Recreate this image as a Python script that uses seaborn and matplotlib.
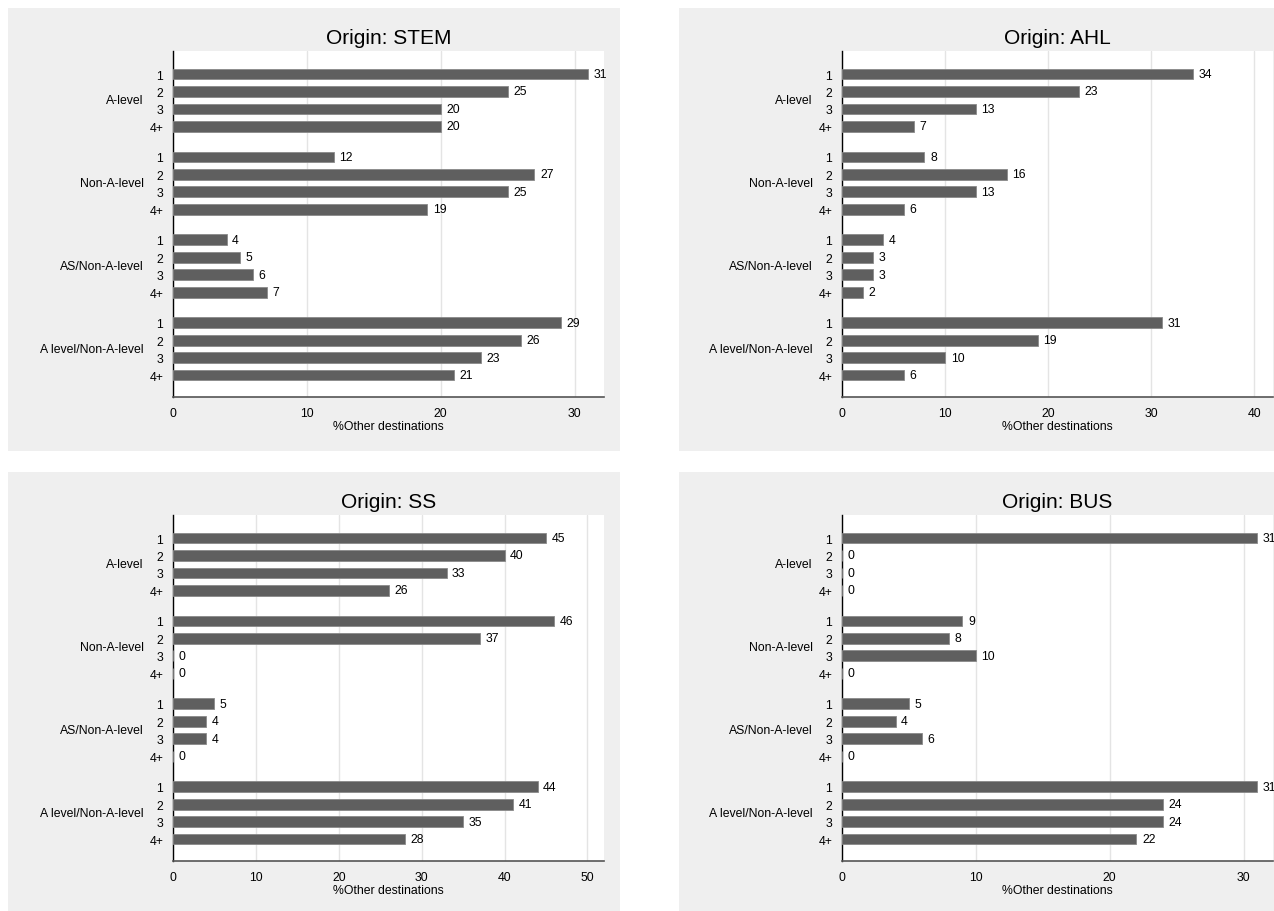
import numpy as np
import pandas as pd
import matplotlib.pyplot as plt
import seaborn as sns
from matplotlib.patches import Rectangle

# 数据
origins = ["STEM", "AHL", "SS", "BUS"]
groups = ["A-level", "Non-A-level", "AS/Non-A-level", "A level/Non-A-level"]
levels = ["1", "2", "3", "4+"]

stem = [31, 25, 20, 20, 12, 27, 25, 19, 4, 5, 6, 7, 29, 26, 23, 21]
ahl = [34, 23, 13, 7, 8, 16, 13, 6, 4, 3, 3, 2, 31, 19, 10, 6]
ss = [45, 40, 33, 26, 46, 37, 0, 0, 5, 4, 4, 0, 44, 41, 35, 28]
bus = [31, 0, 0, 0, 9, 8, 10, 0, 5, 4, 6, 0, 31, 24, 24, 22]

x_max = [32.2, 41.8, 52.0, 32.2]
x_ticks = [[0, 10, 20, 30], [0, 10, 20, 30, 40], [0, 10, 20, 30, 40, 50], [0, 10, 20, 30]]

W, H = 1274, 912
BAR_COLOR = "#5f5f5f"
PANEL_COLOR = "#efefef"
GROUP_STEP = 4.75  # 组间距（以条为单位）


def bar_positions():
    pos = []
    for g in range(len(groups)):
        for i in range(len(levels)):
            pos.append(g * GROUP_STEP + i)
    return np.array(pos)


def draw_panel(fig, box, origin, values, xmax, ticks):
    left, top, right, bottom = box
    ax = fig.add_axes([left / W, 1 - bottom / H, (right - left) / W, (bottom - top) / H])
    ax.set_facecolor("white")
    ax.set_zorder(2)

    pos = bar_positions()
    df = pd.DataFrame({"value": values, "pos": pos})
    sns.barplot(data=df, x="value", y="pos", orient="y", native_scale=True,
                width=0.62, color=BAR_COLOR, saturation=1, errorbar=None,
                edgecolor="#8a8a8a", linewidth=0.6, ax=ax, zorder=3)
    ax.bar_label(ax.containers[0], fmt="%d", padding=4, fontsize=8.8, color="black")

    ax.set_xlim(0, xmax)
    ax.set_ylim(pos.max() + 1.26, -1.32)
    ax.set_xticks(ticks)
    ax.set_yticks(pos)
    ax.set_yticklabels(levels * len(groups))
    ax.tick_params(axis="y", length=0, pad=7, labelsize=8.8, labelcolor="black")
    ax.tick_params(axis="x", length=4, width=1, color="#444444", pad=3,
                   labelsize=8.8, labelcolor="black")
    ax.grid(axis="x", color="#e4e4e4", linewidth=1, zorder=0)
    ax.grid(axis="y", visible=False)

    for s in ["top", "right"]:
        ax.spines[s].set_visible(False)
    ax.spines["left"].set_color("black")
    ax.spines["left"].set_linewidth(1)
    ax.spines["bottom"].set_color("#555555")
    ax.spines["bottom"].set_linewidth(1.2)

    # 组标签
    for g, name in enumerate(groups):
        yc = g * GROUP_STEP + 1.5
        ax.annotate(name, xy=(0, yc), xycoords=("axes fraction", "data"),
                    xytext=(-21, 0), textcoords="offset points",
                    ha="right", va="center", fontsize=8.8, color="black")

    ax.set_ylabel("")
    ax.set_xlabel("%Other destinations", fontsize=8.8, labelpad=1, color="black")
    ax.set_title("Origin: " + origin, fontsize=15, pad=6, color="black")
    return ax


def main():
    sns.set_theme(style="white")
    plt.rcParams["font.family"] = ["Liberation Sans", "DejaVu Sans"]

    fig = plt.figure(figsize=(W / 100, H / 100), dpi=100)
    fig.patch.set_facecolor("white")

    # 灰色面板背景
    panel_origins = [(8, 9), (679, 9), (8, 473), (679, 473)]
    for px, py in panel_origins:
        rect = Rectangle((px / W, 1 - (py + 443) / H), 612 / W, 443 / H,
                         transform=fig.transFigure, facecolor=PANEL_COLOR,
                         edgecolor="none", zorder=-10)
        fig.add_artist(rect)

    boxes = [(173, 52, 604, 398), (842, 52, 1273, 398),
             (173, 516, 604, 862), (842, 516, 1273, 862)]
    data = [stem, ahl, ss, bus]
    for k in range(4):
        draw_panel(fig, boxes[k], origins[k], data[k], x_max[k], x_ticks[k])

    fig.savefig("out.png", dpi=100)


if __name__ == "__main__":
    main()
